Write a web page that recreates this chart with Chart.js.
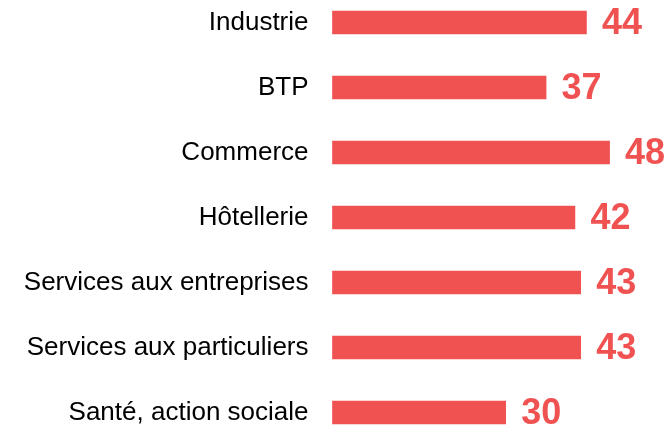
<!DOCTYPE html>
<html>
<head>
<meta charset="utf-8">
<script src="https://cdn.jsdelivr.net/npm/chart.js@4/dist/chart.umd.min.js"></script>
<style>
html,body{margin:0;padding:0;background:#fff;}
#wrap{position:relative;width:669px;height:430px;}
</style>
</head>
<body>
<div id="wrap"><canvas id="c" width="669" height="430"></canvas></div>
<script>
const categories = ["Industrie", "BTP", "Commerce", "Hôtellerie", "Services aux entreprises", "Services aux particuliers", "Santé, action sociale"];
const values = [44, 37, 48, 42, 43, 43, 30];

const BAR_COLOR = "#F05151";

const valueLabels = {
  id: "valueLabels",
  afterDatasetsDraw(chart) {
    const ctx = chart.ctx;
    const meta = chart.getDatasetMeta(0);
    ctx.save();
    ctx.font = "bold 36px 'Liberation Sans', Arial, sans-serif";
    ctx.fillStyle = BAR_COLOR;
    ctx.textAlign = "left";
    ctx.textBaseline = "middle";
    meta.data.forEach((bar, i) => {
      ctx.fillText(String(chart.data.datasets[0].data[i]), bar.x + 15.5, bar.y + 1.5);
    });
    ctx.restore();
  }
};

new Chart(document.getElementById("c"), {
  type: "bar",
  data: {
    labels: categories,
    datasets: [{
      data: values,
      backgroundColor: BAR_COLOR,
      borderWidth: 0,
      barThickness: 23,
      clip: false
    }]
  },
  options: {
    indexAxis: "y",
    responsive: false,
    animation: false,
    events: [],
    layout: { padding: { top: 22.5, bottom: 17.5, left: 0, right: 0 } },
    plugins: { legend: { display: false }, tooltip: { enabled: false } },
    scales: {
      x: {
        display: false,
        min: 0,
        max: 58.3
      },
      y: {
        offset: false,
        border: { display: false },
        grid: { display: false, drawTicks: false },
        ticks: {
          color: "#000",
          padding: 24,
          font: { family: "'Liberation Sans', Arial, sans-serif", size: 26 }
        },
        afterFit(scale) {
          scale.width = 332.5;
          scale.paddingTop = 0;
          scale.paddingBottom = 0;
        }
      }
    }
  },
  plugins: [valueLabels]
});
</script>
</body>
</html>
